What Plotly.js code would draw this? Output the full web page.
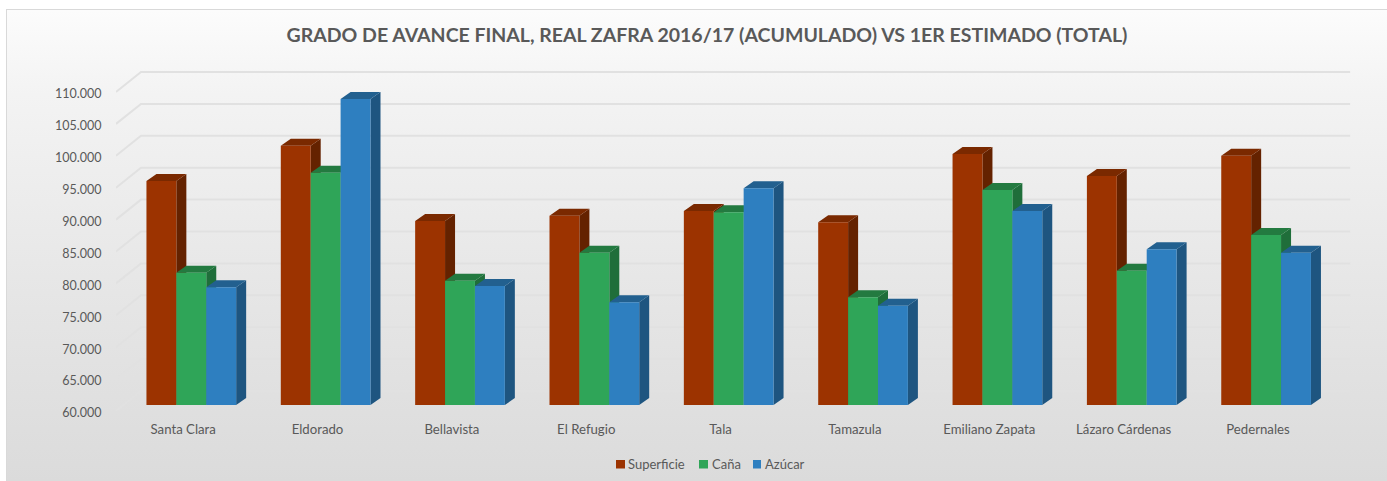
<!DOCTYPE html>
<html><head><meta charset="utf-8">
<script src="https://cdn.plot.ly/plotly-3.0.1.min.js"></script>
<style>
html,body{margin:0;padding:0;background:#fff;overflow:hidden}
#frame{position:absolute;left:6px;top:9px;width:1381px;height:472px;box-sizing:border-box;border:1px solid #d9d9d9;border-right:0;border-bottom:0;background:linear-gradient(180deg,#fcfcfc 0%,#f3f3f3 18%,#e6e6e6 60%,#dbdbdb 100%)}
#chart{position:absolute;left:0;top:0;width:1387px;height:481px}
</style></head><body>
<div id="frame"></div><div id="chart"></div>
<script>
const categories=['Santa Clara','Eldorado','Bellavista','El Refugio','Tala','Tamazula','Emiliano Zapata','Lázaro Cárdenas','Pedernales'];
const superficie=[95110,100640,88840,89670,90410,88640,99340,95890,99080];
const cana=[80740,96410,79480,83870,90200,76880,93700,81050,86650];
const azucar=[78450,107960,78650,76100,93960,75560,90410,84400,83870];
const yTicks=[60000,65000,70000,75000,80000,85000,90000,95000,100000,105000,110000];
const seriesNames=['Superficie','Caña','Azúcar'];
const frontColors=['#9c3300','#2fa558','#2e7fc0'];
const sideColors=['#642200','#1f6e3a','#1e5580'];
const topColors=['#7a2900','#237a40','#22608f'];

// pixel geometry of the pseudo-3D box
const W=1387,H=481,L=116,R=1360,T=60,B=411;
const band=134.35, pxPerUnit=0.00638;
const wallDx=25, wallDy=20;
const barBase=405, group0=191.3, barPx=29.9, depthDx=10, depthDy=7;
const xs=categories.map((_,i)=>i);
const plotW=R-L;
const x0=-0.5, x1=x0+plotW/band;
const y1=60000+(B-T)/pxPerUnit;
const bx0=-(group0-L)/band, bx1=bx0+plotW/band;
const by1=60000+(barBase-T)/pxPerUnit;
const ddx=depthDx/band, ddy=depthDy/pxPerUnit, bw=barPx/band;

const traces=[];
// gridlines on the walls
const gx=[],gy=[];
const wx=wallDx/band, wy=wallDy/pxPerUnit;
yTicks.forEach(t=>{gx.push(x0,x0+wx,8.5+wx,null);gy.push(t,t+wy,t+wy,null);});
traces.push({type:'scatter',mode:'lines',x:gx,y:gy,line:{color:'#e1e1e1',width:2},hoverinfo:'skip',showlegend:false,xaxis:'x',yaxis:'y'});

// depth faces
[superficie,cana,azucar].forEach((vals,k)=>{
  const sx=[],sy=[],tx=[],ty=[];
  vals.forEach((v,i)=>{
    const left=i+(k-1.5)*bw, right=left+bw;
    sx.push(right,right+ddx,right+ddx,right,right,null);
    sy.push(60000,60000+ddy,v+ddy,v,60000,null);
    tx.push(left,left+ddx,right+ddx,right,left,null);
    ty.push(v,v+ddy,v+ddy,v,v,null);
  });
  traces.push({type:'scatter',mode:'lines',x:sx,y:sy,fill:'toself',fillcolor:sideColors[k],line:{width:0,color:sideColors[k]},hoverinfo:'skip',showlegend:false,xaxis:'x2',yaxis:'y2'});
  traces.push({type:'scatter',mode:'lines',x:tx,y:ty,fill:'toself',fillcolor:topColors[k],line:{width:0,color:topColors[k]},hoverinfo:'skip',showlegend:false,xaxis:'x2',yaxis:'y2'});
});
// front faces
[superficie,cana,azucar].forEach((vals,k)=>{
  traces.push({type:'bar',name:seriesNames[k],x:xs,y:vals,marker:{color:frontColors[k],line:{width:0}},xaxis:'x3',yaxis:'y3',showlegend:false});
});

const font='Lato, "Open Sans", sans-serif';
const grey='#595959';
const hid={visible:false,showgrid:false,zeroline:false,fixedrange:true};
const yDom=[(B-barBase)/(B-T),1];
const legendItems=[
 {sq:[616,625],tx:627},{sq:[699,708],tx:711},{sq:[753,761],tx:764}
];
const px=x=>(x-L)/plotW, py=y=>(B-y)/(B-T);
const layout={
  width:W,height:H,
  paper_bgcolor:'rgba(0,0,0,0)',plot_bgcolor:'rgba(0,0,0,0)',
  margin:{l:L,r:W-R,t:T,b:H-B,pad:0},
  separators:',.',
  showlegend:false,
  barmode:'group',bargap:1-3*bw,bargroupgap:0,
  title:{text:'<b>GRADO DE AVANCE FINAL, REAL ZAFRA 2016/17 (ACUMULADO) VS 1ER ESTIMADO (TOTAL)</b>',
    font:{family:font,size:19.5,color:grey},x:707/W,xanchor:'center',y:1-35.5/H,yanchor:'middle'},
  xaxis:{type:'linear',range:[x0,x1],tickmode:'array',tickvals:xs,ticktext:categories,
    showgrid:false,zeroline:false,showline:false,ticks:'outside',ticklen:6,tickcolor:'rgba(0,0,0,0)',
    tickfont:{family:font,size:13.2,color:grey},fixedrange:true},
  yaxis:{type:'linear',range:[60000,y1],tickmode:'array',tickvals:yTicks,tickformat:',d',
    showgrid:false,zeroline:false,showline:false,ticks:'outside',ticklen:11,tickcolor:'rgba(0,0,0,0)',
    ticklabelshift:2,
    tickfont:{family:font,size:12.5,color:grey},fixedrange:true},
  xaxis2:Object.assign({},hid,{range:[bx0,bx1],anchor:'y2',domain:[0,1]}),
  yaxis2:Object.assign({},hid,{range:[60000,by1],anchor:'x2',domain:yDom}),
  xaxis3:Object.assign({},hid,{range:[bx0,bx1],anchor:'y3',domain:[0,1]}),
  yaxis3:Object.assign({},hid,{range:[60000,by1],anchor:'x3',domain:yDom}),
  shapes:legendItems.map((it,k)=>({type:'rect',xref:'paper',yref:'paper',
    x0:px(it.sq[0]),x1:px(it.sq[1]),y0:py(468.5),y1:py(460),fillcolor:frontColors[k],line:{width:0}})),
  annotations:legendItems.map((it,k)=>({xref:'paper',yref:'paper',x:px(it.tx),y:py(464),
    text:seriesNames[k],showarrow:false,xanchor:'left',yanchor:'middle',xshift:0,
    font:{family:font,size:13,color:grey},borderpad:0}))
};
Plotly.newPlot('chart',traces,layout,{displayModeBar:false,staticPlot:true});
</script></body></html>
